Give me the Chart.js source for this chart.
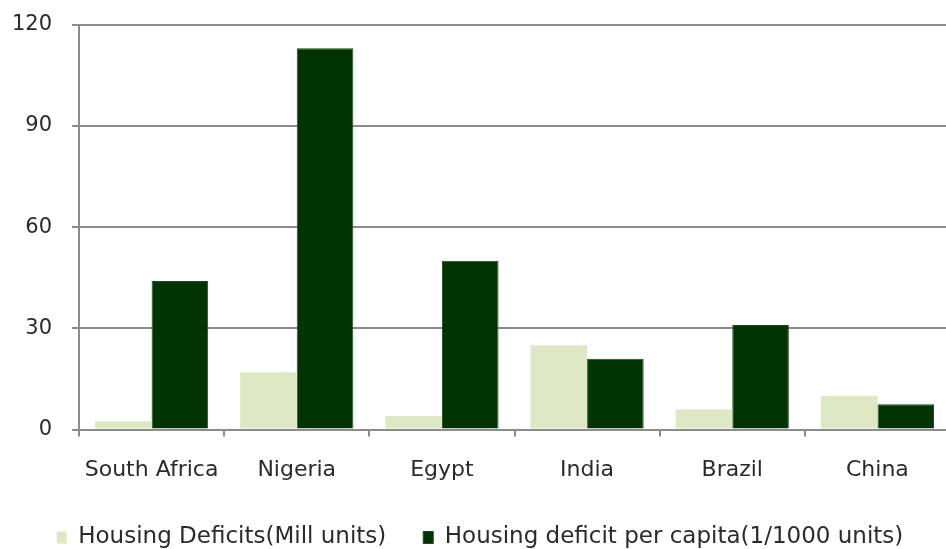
<!DOCTYPE html>
<html>
<head>
<meta charset="utf-8">
<script src="https://cdn.jsdelivr.net/npm/chart.js@4"></script>
<style>
    html, body { margin: 0; padding: 0; background: #fff; }
    #wrap { width: 946px; height: 549px; overflow: hidden; position: relative; }
    #housingChart { position: absolute; left: 0; top: -8px; }
</style>
</head>
<body>
<div id="wrap"><canvas id="housingChart" width="950" height="557"></canvas></div>
<script>
const countries = ["South Africa", "Nigeria", "Egypt", "India", "Brazil", "China"];
const deficitMillUnits = [2.5, 17, 4, 25, 6, 10];
const deficitPerCapita = [44, 113, 50, 21, 31, 7.5];
const seriesNames = ["Housing Deficits(Mill units)", "Housing deficit per capita(1/1000 units)"];

document.addEventListener('DOMContentLoaded', function () {
    const ctx = document.getElementById('housingChart').getContext('2d');
    const axisGrey = '#8c8c8c';
    const textColor = '#2b2b2b';
    const yFont = { family: 'DejaVu Sans', size: 21 };
    const xFont = { family: 'DejaVu Sans', size: 22 };
    const legendFont = { family: 'DejaVu Sans', size: 23 };

    const data = {
        labels: countries,
        datasets: [{
            label: seriesNames[0],
            backgroundColor: '#dfe8c4',
            borderWidth: 0,
            data: deficitMillUnits
        }, {
            label: seriesNames[1],
            backgroundColor: '#023302',
            borderColor: '#1f4a1f',
            borderWidth: 1,
            data: deficitPerCapita
        }]
    };

    new Chart(ctx, {
        type: 'bar',
        data: data,
        options: {
            responsive: false,
            animation: false,
            layout: { padding: { top: 0, right: 0, left: 10, bottom: -10 } },
            datasets: {
                bar: { categoryPercentage: 0.78, barPercentage: 1.0 }
            },
            plugins: {
                tooltip: { enabled: false },
                legend: {
                    position: 'bottom',
                    labels: {
                        color: textColor,
                        font: legendFont,
                        boxWidth: 10,
                        boxHeight: 12,
                        padding: 37
                    }
                }
            },
            scales: {
                x: {
                    // pull the legend up closer to the category labels
                    afterFit: function (scale) { scale.height -= 14; },
                    grid: {
                        offset: true,
                        drawOnChartArea: false,
                        drawTicks: true,
                        tickLength: 7,
                        color: axisGrey,
                        lineWidth: 2
                    },
                    border: { color: axisGrey, width: 2 },
                    ticks: { color: textColor, font: xFont, padding: 20, maxRotation: 0 }
                },
                y: {
                    min: 0,
                    max: 120,
                    afterFit: function (scale) { scale.width = 69; },
                    ticks: { stepSize: 30, color: textColor, font: yFont, padding: 20 },
                    grid: { color: axisGrey, lineWidth: 2, tickLength: 7 },
                    border: { color: axisGrey, width: 2 }
                }
            }
        }
    });
});
</script>
</body>
</html>
